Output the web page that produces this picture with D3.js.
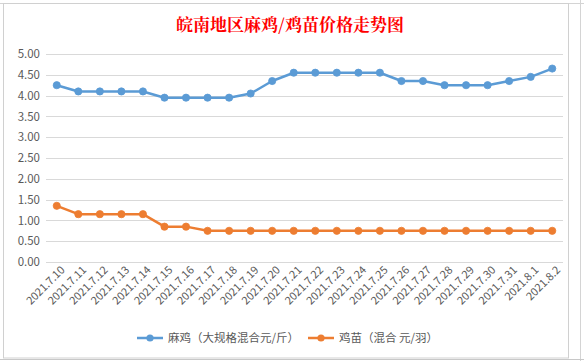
<!DOCTYPE html>
<html><head><meta charset="utf-8">
<script src="https://cdn.jsdelivr.net/npm/d3@7/dist/d3.min.js"></script>
<style>body{margin:0;background:#fff}svg{display:block}</style>
</head><body>
<svg id="c" width="584" height="361"></svg>
<script>
const dates = ["2021.7.10","2021.7.11","2021.7.12","2021.7.13","2021.7.14","2021.7.15","2021.7.16","2021.7.17","2021.7.18","2021.7.19","2021.7.20","2021.7.21","2021.7.22","2021.7.23","2021.7.24","2021.7.25","2021.7.26","2021.7.27","2021.7.28","2021.7.29","2021.7.30","2021.7.31","2021.8.1","2021.8.2"];
const maji = [4.25,4.10,4.10,4.10,4.10,3.95,3.95,3.95,3.95,4.05,4.35,4.55,4.55,4.55,4.55,4.55,4.35,4.35,4.25,4.25,4.25,4.35,4.45,4.65];
const jimiao = [1.35,1.15,1.15,1.15,1.15,0.85,0.85,0.75,0.75,0.75,0.75,0.75,0.75,0.75,0.75,0.75,0.75,0.75,0.75,0.75,0.75,0.75,0.75,0.75];
const yTicks = [0,0.5,1,1.5,2,2.5,3,3.5,4,4.5,5];
const seriesNames = ["麻鸡（大规格混合元/斤）","鸡苗（混合 元/羽）"];
const colors = ["#5b9bd5","#ed7d31"];
const title = "皖南地区麻鸡/鸡苗价格走势图";

const svg = d3.select("#c");
const font = "'Noto Sans CJK SC','Microsoft YaHei',sans-serif";

// spreadsheet surroundings
svg.append("line").attr("x1",0).attr("x2",584).attr("y1",3.5).attr("y2",3.5).attr("stroke","#d4d4d4");
svg.append("line").attr("x1",580.5).attr("x2",580.5).attr("y1",0).attr("y2",361).attr("stroke","#d4d4d4");
svg.append("line").attr("x1",0).attr("x2",584).attr("y1",359.5).attr("y2",359.5).attr("stroke","#c8c8c8");
// chart frame
svg.append("rect").attr("x",3.5).attr("y",3.5).attr("width",565).attr("height",354.5)
  .attr("fill","#fff").attr("stroke","#d0d0d0");

const x = d3.scaleBand().domain(dates).range([46,563]);
const y = d3.scaleLinear().domain([0,5]).range([262,54]);

// gridlines
svg.append("g").selectAll("line").data(yTicks).join("line")
  .attr("x1",46).attr("x2",563).attr("y1",d=>Math.round(y(d))+0.5).attr("y2",d=>Math.round(y(d))+0.5)
  .attr("stroke","#d9d9d9").attr("stroke-width",1);

// y axis labels
const ya = svg.append("g").attr("transform","translate(40,0)")
  .call(d3.axisLeft(y).tickValues(yTicks).tickFormat(d3.format(".2f")).tickSize(0).tickPadding(0));
ya.select(".domain").remove();
ya.selectAll("text").attr("font-family",font).attr("font-size",11.5).attr("fill","#595959");

// x axis labels
const xa = svg.append("g").attr("transform","translate(0,266)")
  .call(d3.axisBottom(x).tickSize(0).tickPadding(0));
xa.select(".domain").remove();
xa.selectAll("text").attr("font-family",font).attr("font-size",11).attr("fill","#595959")
  .attr("text-anchor","end").attr("dy","0.35em").attr("dx","0")
  .attr("transform","rotate(-45) translate(0,0)");
xa.selectAll(".tick").each(function(){
  const t = d3.select(this).select("text");
  t.attr("y",0).attr("x",0);
});
xa.selectAll(".tick text").attr("transform","translate(6,2) rotate(-45)");

// series
const line = d3.line().x((d,i)=>x(dates[i])+x.bandwidth()/2).y(d=>y(d));
[maji,jimiao].forEach((s,k)=>{
  svg.append("path").datum(s).attr("d",line).attr("fill","none")
    .attr("stroke",colors[k]).attr("stroke-width",2.5).attr("stroke-linejoin","round");
  svg.append("g").selectAll("circle").data(s).join("circle")
    .attr("cx",(d,i)=>x(dates[i])+x.bandwidth()/2).attr("cy",d=>y(d)).attr("r",3.6)
    .attr("fill",colors[k]).attr("stroke",colors[k]).attr("stroke-width",0.8);
});

// title
svg.append("text").attr("x",290).attr("y",31).attr("text-anchor","middle")
  .attr("font-family","'Noto Serif CJK SC','Noto Sans CJK SC',serif").attr("font-weight","bold")
  .attr("font-size",17).attr("fill","#ff0000").text(title);

// legend
const leg = [{x:137,tx:168},{x:308,tx:339}];
leg.forEach((l,k)=>{
  const g = svg.append("g");
  g.append("line").attr("x1",l.x).attr("x2",l.x+26).attr("y1",338).attr("y2",338)
    .attr("stroke",colors[k]).attr("stroke-width",2.5);
  g.append("circle").attr("cx",l.x+13).attr("cy",338).attr("r",3.6).attr("fill",colors[k]);
  g.append("text").attr("x",l.tx).attr("y",338).attr("dy","0.35em")
    .attr("font-family",font).attr("font-size",11.5).attr("fill","#595959").text(seriesNames[k]);
});
</script>
</body></html>
